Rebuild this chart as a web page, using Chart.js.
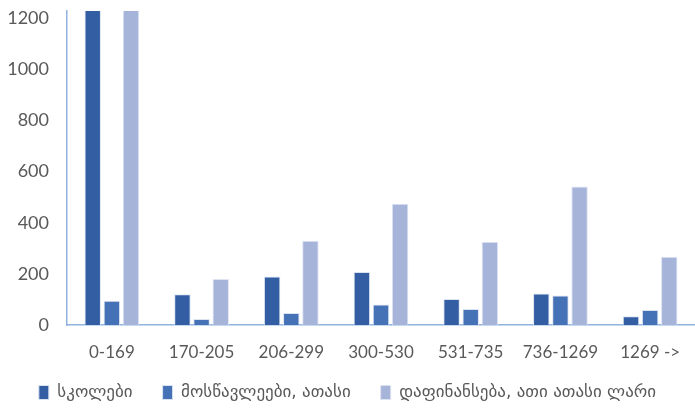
<!DOCTYPE html>
<html>
<head>
<meta charset="utf-8">
<script src="https://cdn.jsdelivr.net/npm/chart.js@4.4.0/dist/chart.umd.min.js"></script>
<style>
  html,body{margin:0;padding:0;background:#fff;}
  #wrap{width:695px;height:409px;position:relative;}
</style>
</head>
<body>
<div id="wrap"><canvas id="chart"></canvas></div>
<script>
const categories=['0-169','170-205','206-299','300-530','531-735','736-1269','1269 ->'];
const schools=[1260,120,190,207,102,123,34];
const students=[95,23,47,80,63,115,59];
const funding=[1260,180,329,474,326,542,267];
const seriesNames=['სკოლები','მოსწავლეები, ათასი','დაფინანსება, ათი ათასი ლარი'];
const yTicks=[0,200,400,600,800,1000,1200];

const axisBlue='#8fb3de';
const tickGrey='#595959';

// legend takes little room in the layout, then its box is stretched upward
// so the items can sit where the original has them
const legendFit={
  id:'legendFit',
  beforeInit(chart){
    const fit=chart.legend.fit;
    chart.legend.fit=function(){fit.call(this);this.height=39;};
  },
  afterLayout(chart){
    const lg=chart.legend;
    lg.top=lg.bottom-55;
    lg.height=55;
  }
};

new Chart(document.getElementById('chart'),{
  type:'bar',
  data:{
    labels:categories,
    datasets:[
      {label:seriesNames[0],data:schools,backgroundColor:'#335ea4',borderColor:'#dbe3f1',borderWidth:1},
      {label:seriesNames[1],data:students,backgroundColor:'#4571b7',borderColor:'#dbe3f1',borderWidth:1},
      {label:seriesNames[2],data:funding,backgroundColor:'#a6b4d9',borderColor:'#dde3f1',borderWidth:1}
    ]
  },
  plugins:[legendFit],
  options:{
    responsive:true,
    maintainAspectRatio:false,
    animation:false,
    layout:{padding:0},
    datasets:{bar:{categoryPercentage:0.64,barPercentage:0.86}},
    plugins:{
      tooltip:{enabled:false},
      legend:{
        position:'bottom',
        labels:{
          color:tickGrey,
          font:{family:'DejaVu Sans',size:17},
          boxWidth:10,boxHeight:14,padding:30,
          useBorderRadius:false
        }
      }
    },
    scales:{
      x:{
        grid:{display:false},
        border:{color:axisBlue,width:1.5},
        ticks:{color:tickGrey,font:{family:'Lato',size:17},padding:9,maxRotation:0},
        afterFit:s=>{s.height=45;}
      },
      y:{
        min:0,max:1228,
        grid:{display:false},
        border:{color:axisBlue,width:1.5},
        afterBuildTicks:axis=>{axis.ticks=yTicks.map(v=>({value:v}));},
        ticks:{color:tickGrey,font:{family:'Lato',size:18},padding:10,callback:v=>String(v)},
        afterFit:s=>{s.width=67;s.paddingTop=11;}
      }
    }
  }
});
</script>
</body>
</html>
